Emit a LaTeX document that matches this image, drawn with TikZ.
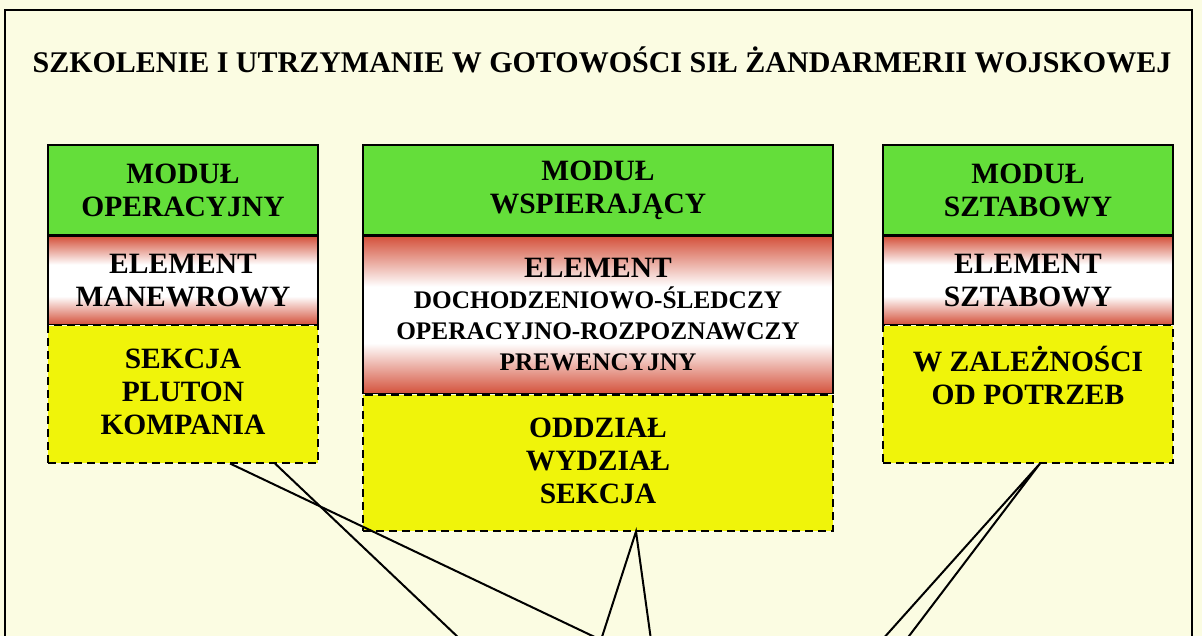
\documentclass[tikz,border=0pt]{standalone}
\usepackage{fontspec}
\setmainfont{Liberation Serif}
\usetikzlibrary{positioning}
\definecolor{tlo}{RGB}{251,252,226}
\definecolor{zielony}{RGB}{100,222,58}
\definecolor{czerw}{RGB}{212,82,60}
\definecolor{zolty}{RGB}{240,244,10}
\pgfdeclareverticalshading{czerwbiel}{100bp}{color(0bp)=(czerw); color(25bp)=(czerw); color(41bp)=(white); color(59bp)=(white); color(75bp)=(czerw); color(100bp)=(czerw)}
\newcommand{\duzy}{\fontsize{29.5}{33}\selectfont\bfseries}
\newcommand{\maly}{\fontsize{25.3}{31}\selectfont\bfseries}
\newcommand{\tytul}{\fontsize{30}{36}\selectfont\bfseries}
\newcommand{\gora}[2]{\parbox[t][#1][t]{260pt}{\centering\strut #2}}
\tikzset{
  modul/.style args={#1,#2}{
  draw=black,
  line width=1.4pt,
  fill=zielony,
  inner sep=0pt,
  align=center,
  font=\duzy,
  minimum width=#1pt,
  minimum height=#2pt,
  },
  element/.style args={#1,#2}{
  draw=black,
  line width=1.4pt,
  shading=czerwbiel,
  inner sep=0pt,
  align=center,
  font=\duzy,
  minimum width=#1pt,
  minimum height=#2pt,
  },
  jednostka/.style args={#1,#2}{
  draw=black,
  line width=1.4pt,
  dash pattern=on 8pt off 5pt,
  fill=zolty,
  inner xsep=0pt,
  inner ysep=20pt,
  font=\duzy,
  minimum width=#1pt,
  minimum height=#2pt,
  },
  naglowek/.style={font=\tytul,anchor=base},
  polacz/.style={line width=2pt}
}
\begin{document}
\begin{tikzpicture}[x=1pt,y=1pt]
  \useasboundingbox (0,0) rectangle (1202,-636);
  \clip (0,0) rectangle (1202,-636);
  \fill[tlo] (0,0) rectangle (1202,-636);
  \draw[line width=1.6pt] (5,-10) rectangle (1192,-680);

  \node[naglowek] (tyt) at (602,-73) {SZKOLENIE I UTRZYMANIE W GOTOWOŚCI SIŁ ŻANDARMERII WOJSKOWEJ};

  \node[modul={270,90}] (modop) at (183,-190) {MODUŁ\\OPERACYJNY};
  \node[element={270,88},below=0pt of modop] (elop) {ELEMENT\\MANEWROWY};
  \node[jednostka={270,137},below=0pt of elop] (jedop) {\gora{97pt}{SEKCJA\\PLUTON\\KOMPANIA}};

  \node[modul={470,90}] (modwsp) at (598,-190) {MODUŁ\\WSPIERAJĄCY};
  \node[element={470,157},below=0pt of modwsp,font=\maly] (elwsp)
    {{\duzy ELEMENT}\\DOCHODZENIOWO-ŚLEDCZY\\OPERACYJNO-ROZPOZNAWCZY\\PREWENCYJNY};
  \node[jednostka={470,136},below=0pt of elwsp] (jedwsp) {\gora{96pt}{ODDZIAŁ\\WYDZIAŁ\\SEKCJA}};

  \node[modul={290,90}] (modszt) at (1028,-190) {MODUŁ\\SZTABOWY};
  \node[element={290,88},below=0pt of modszt] (elszt) {ELEMENT\\SZTABOWY};
  \node[jednostka={290,137},below=0pt of elszt] (jedszt) {\gora{97pt}{W ZALEŻNOŚCI\\OD POTRZEB}};

  \coordinate (cel0) at (461,-640);
  \coordinate (cel1) at (601,-640);
  \coordinate (cel2) at (651,-640);
  \coordinate (cel3) at (882,-640);
  \coordinate (cel4) at (906,-640);

  \draw[polacz] ([xshift=47pt]jedop.south) -- (cel1);
  \draw[polacz] ([xshift=92pt]jedop.south) -- (cel0);
  \draw[polacz] (cel1) -- ([xshift=38pt]jedwsp.south) -- (cel2);
  \draw[polacz] (cel3) -- ([xshift=12pt]jedszt.south) -- (cel4);
\end{tikzpicture}
\end{document}
